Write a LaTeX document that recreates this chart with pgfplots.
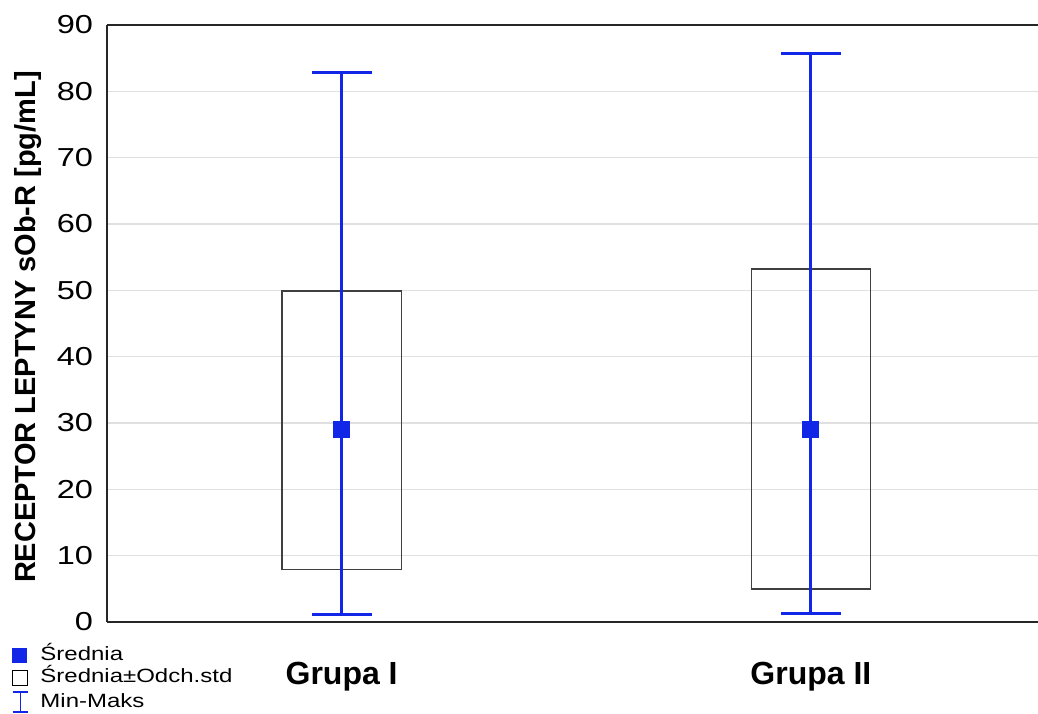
\documentclass[border=0pt]{standalone}
\usepackage{fontspec}
\setmainfont{Liberation Sans}
\newfontfamily\widefont{Liberation Sans}[FakeStretch=1.25]
\usepackage{pgfplots}
\pgfplotsset{compat=1.18}
\definecolor{myblue}{RGB}{18,38,232}
\begin{document}
\begin{tikzpicture}
\useasboundingbox (-53.5pt,-45.5pt) rectangle (465.5pt,311pt);
\begin{axis}[
  at={(0,0)}, anchor=south west,
  scale only axis, width=465.5pt, height=298.5pt,
  xmin=-0.5, xmax=1.484, ymin=0, ymax=90,
  axis x line=box, axis y line=left,
  axis line style={-, line width=0.9pt, black!85},
  ytick={0,10,...,90},
  xtick={0,1}, xticklabels={Grupa I, Grupa II},
  major tick length=0pt,
  ymajorgrids, grid style={black!12, line width=0.6pt},
  /pgf/number format/assume math mode=true,
  yticklabel style={font=\widefont\fontsize{13}{13}\selectfont, xshift=-3.5pt},
  xticklabel style={font=\bfseries\fontsize{16}{16}\selectfont, anchor=center, yshift=-27.5pt},
  ylabel={RECEPTOR LEPTYNY sOb-R [pg/mL]},
  ylabel style={font=\bfseries\fontsize{14.5}{14.5}\selectfont, at={(axis description cs:-0.0848,0.494)}, anchor=center},
  legend cell align=left,
  legend style={at={(axis description cs:-0.102,-0.041)}, anchor=north west, draw=none, fill=none,
    inner sep=0pt, outer sep=0pt, font=\widefont\fontsize{9.6}{10}\selectfont, row sep=2.25pt,
    nodes={inner sep=0pt, text height=7pt, text depth=2pt, anchor=west},
    /tikz/every odd column/.append style={column sep=6pt}},
  clip=false,
]
% boxes: mean +/- std
\addplot[black!75, line width=0.7pt, line join=miter, forget plot] coordinates {(-0.127,7.95) (0.127,7.95) (0.127,49.9) (-0.127,49.9) (-0.127,7.95) (0.127,7.95)};
\addplot[black!75, line width=0.7pt, line join=miter, forget plot] coordinates {(0.873,4.97) (1.127,4.97) (1.127,53.2) (0.873,53.2) (0.873,4.97) (1.127,4.97)};
% mean with min-max
\addplot[only marks, mark=square*, mark size=4pt, color=myblue, forget plot,
  error bars/.cd, y dir=both, y explicit,
  error bar style={line width=1.5pt, myblue},
  error mark options={myblue, line width=1.5pt, mark size=15pt, rotate=90}]
  coordinates {(0,29.05) += (0,53.75) -= (0,27.85) (1,29.05) += (0,56.65) -= (0,27.7)};
\addlegendimage{legend image code/.code={\fill[myblue] (0pt,-3.3pt) rectangle (6.6pt,3.3pt);}}
\addlegendentry{Średnia}
\addlegendimage{legend image code/.code={\draw[black, line width=0.6pt] (0pt,-3.8pt) rectangle (7.5pt,3.8pt);}}
\addlegendentry{Średnia±Odch.std}
\addlegendimage{legend image code/.code={\draw[myblue, line width=0.7pt] (0pt,5pt)--(7.5pt,5pt) (3.75pt,5pt)--(3.75pt,-5pt) (0pt,-5pt)--(7.5pt,-5pt);}}
\addlegendentry{Min-Maks}
\end{axis}
\end{tikzpicture}
\end{document}
